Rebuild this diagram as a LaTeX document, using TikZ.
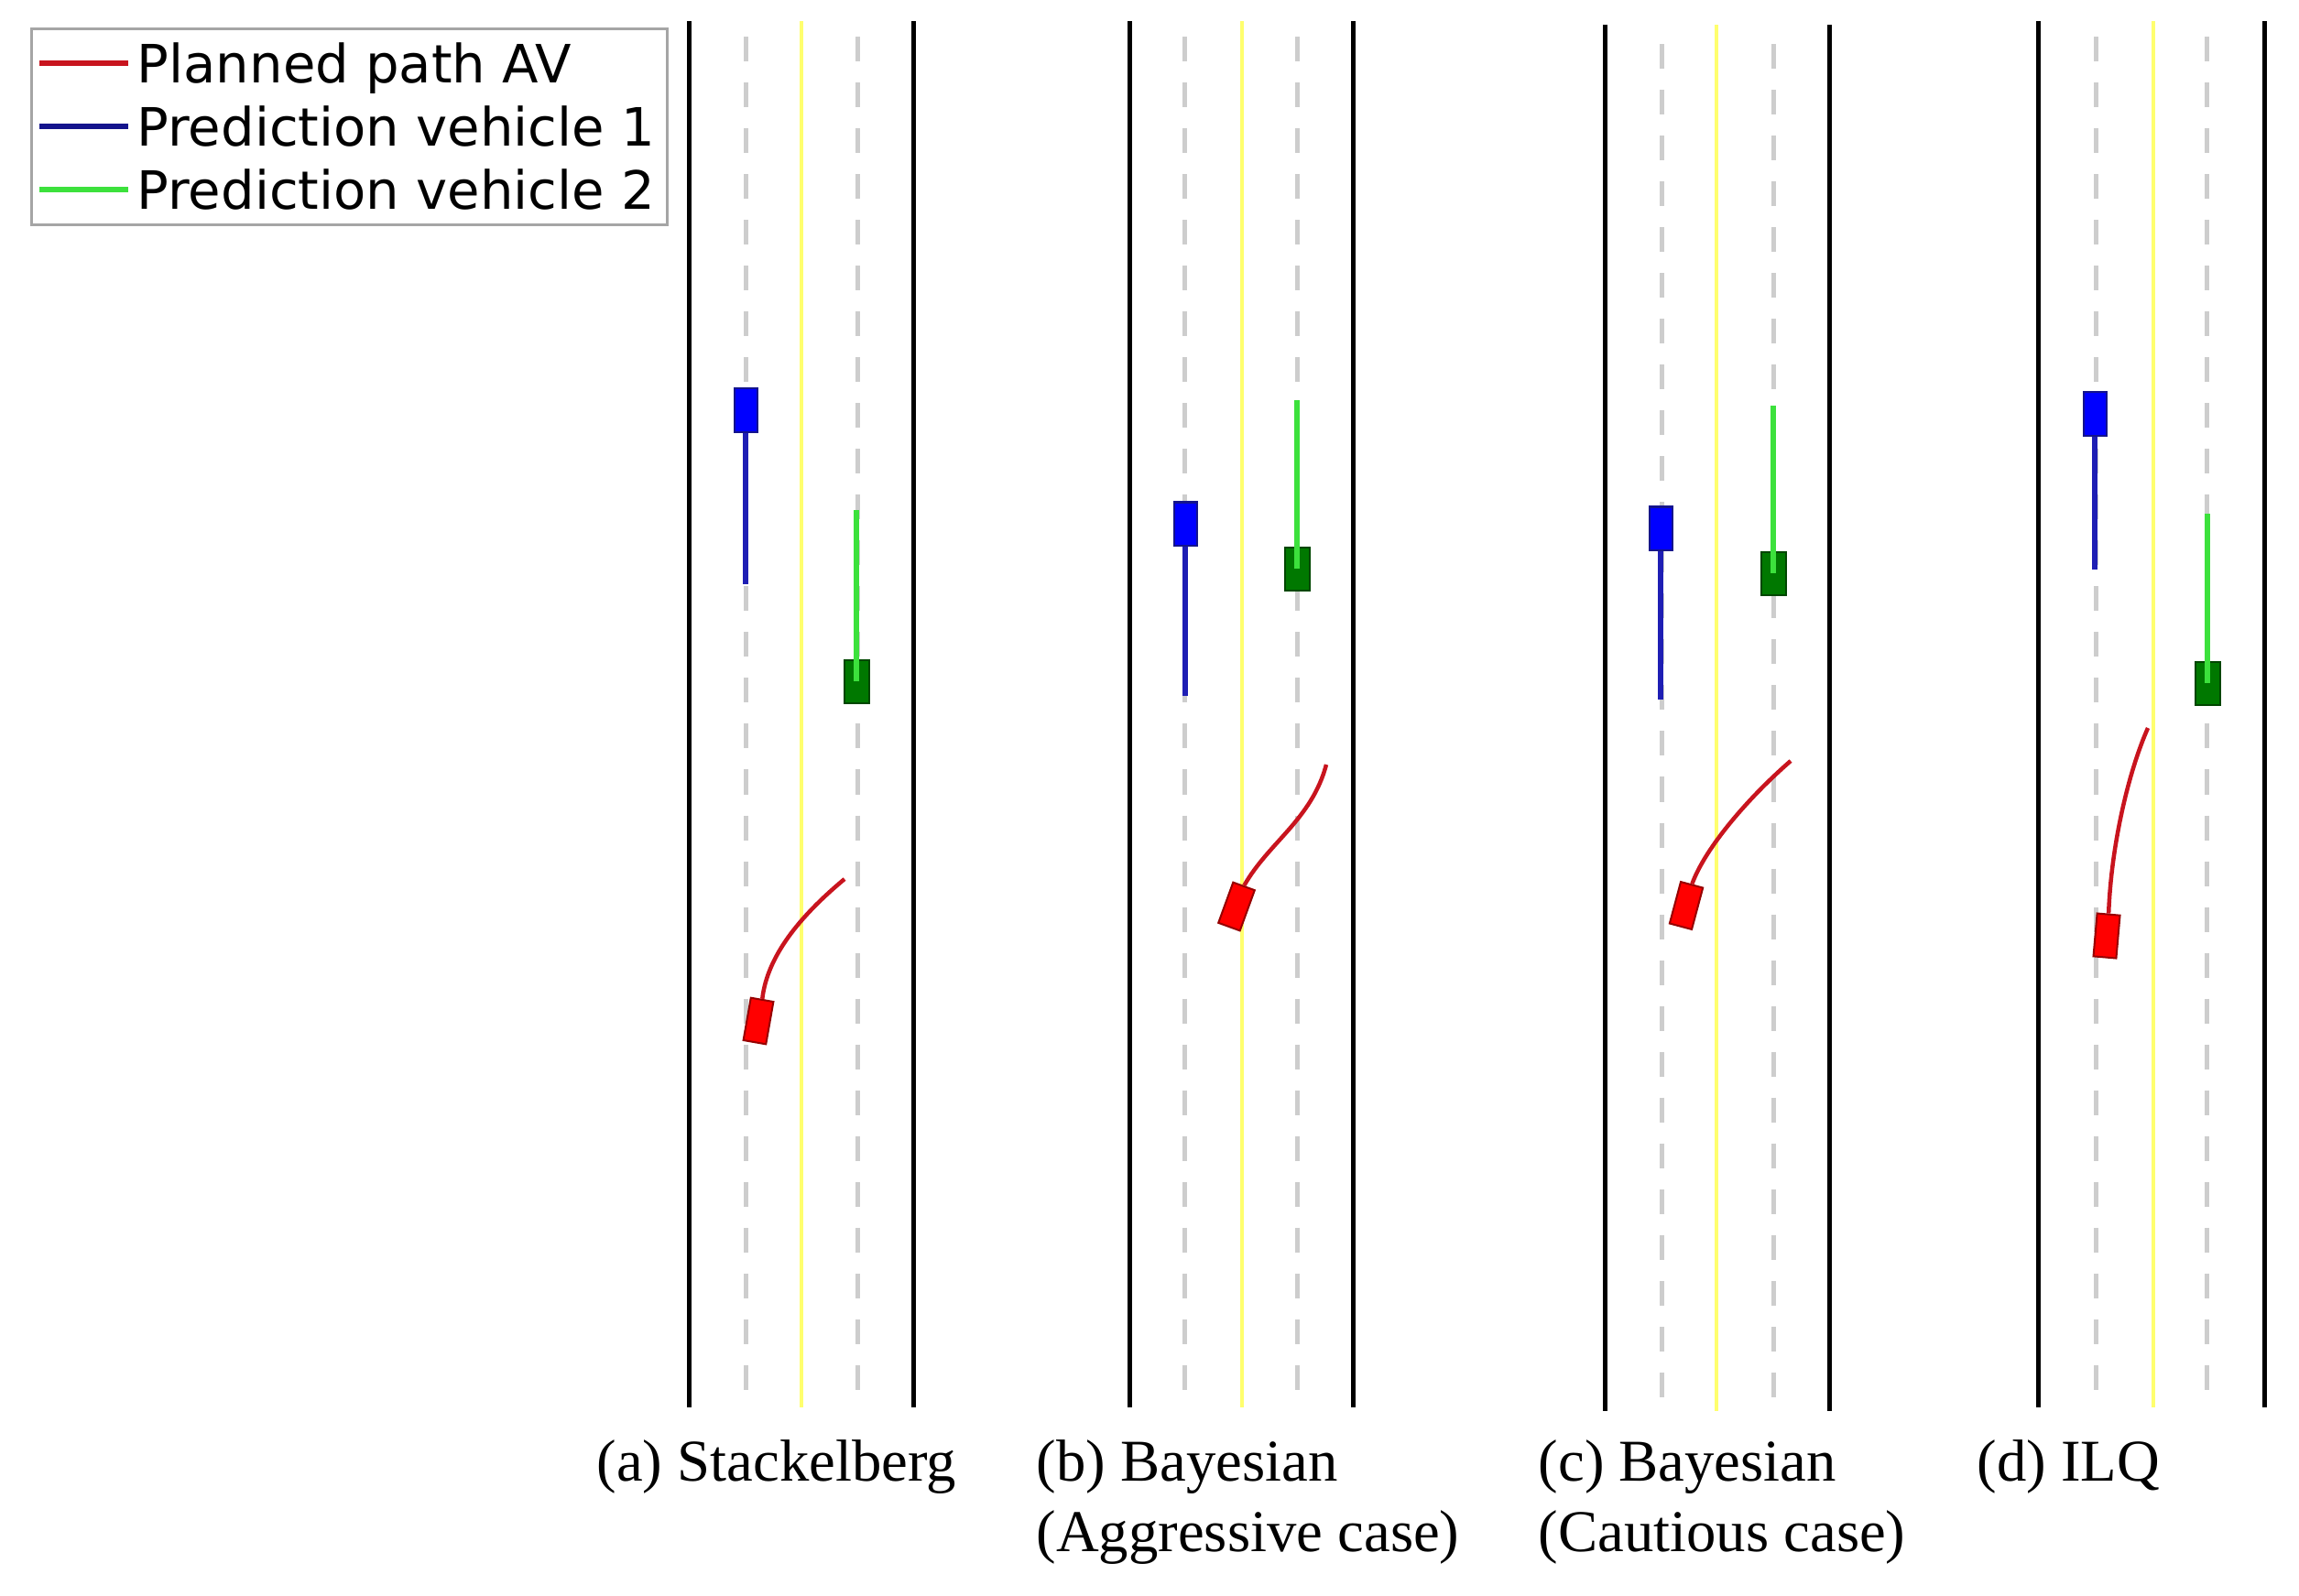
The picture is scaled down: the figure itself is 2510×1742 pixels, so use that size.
\documentclass[tikz,border=0pt]{standalone}
\usepackage{fontspec}
\setmainfont{Liberation Serif}
\newfontfamily\legendfont{DejaVu Sans}
\usetikzlibrary{positioning}

\definecolor{lanegray}{RGB}{205,205,205}
\definecolor{roadyellow}{RGB}{255,255,110}
\definecolor{egored}{RGB}{255,0,0}
\definecolor{egodark}{RGB}{150,0,0}
\definecolor{planred}{RGB}{200,20,30}
\definecolor{oneblue}{RGB}{0,0,255}
\definecolor{onedark}{RGB}{20,20,140}
\definecolor{predblue}{RGB}{30,30,180}
\definecolor{twogreen}{RGB}{0,120,0}
\definecolor{twodark}{RGB}{0,70,0}
\definecolor{predgreen}{RGB}{60,225,60}
\definecolor{legendgray}{RGB}{165,165,165}

\begin{document}
\begin{tikzpicture}[x=0.01cm,y=-0.01cm,
    edge/.style={line width=0.05cm,black},
    centre/.style={line width=0.045cm,roadyellow},
    lanemark/.style={line width=0.05cm,lanegray,dash pattern=on 0.27cm off 0.23cm,dash phase=0.33cm},
    egocar/.style={draw=egodark,fill=egored,line width=0.02cm,minimum width=0.25cm,minimum height=0.47cm,inner sep=0pt},
    carone/.style={draw=onedark,fill=oneblue,line width=0.02cm,minimum width=0.25cm,minimum height=0.47cm,inner sep=0pt},
    cartwo/.style={draw=twodark,fill=twogreen,line width=0.02cm,minimum width=0.27cm,minimum height=0.47cm,inner sep=0pt},
    plan/.style={line width=0.045cm,planred},
    predone/.style={line width=0.06cm,predblue},
    predtwo/.style={line width=0.06cm,predgreen},
    legendbox/.style={draw=legendgray,fill=white,line width=0.03cm,minimum width=6.93cm,minimum height=2.13cm,inner sep=0pt},
    legendtext/.style={font=\legendfont\fontsize{16.4}{19}\selectfont,anchor=base west,inner sep=0pt},
    caption/.style={font=\fontsize{18.4}{21.9}\selectfont,anchor=base west,align=left,inner sep=0pt}]
    \useasboundingbox (0,0) rectangle (2510,1742);

    % roads: edges, lane marks, centre line
    % (a)
    \draw[edge] (752,23) -- (752,1537);
    \draw[edge] (997,23) -- (997,1537);
    \draw[lanemark] (814,23) -- (814,1537);
    \draw[lanemark] (936,23) -- (936,1537);
    \draw[centre] (875,23) -- (875,1537);
    % (b)
    \draw[edge] (1233,23) -- (1233,1537);
    \draw[edge] (1477,23) -- (1477,1537);
    \draw[lanemark] (1293,23) -- (1293,1537);
    \draw[lanemark] (1416,23) -- (1416,1537);
    \draw[centre] (1356,23) -- (1356,1537);
    % (c)
    \draw[edge] (1752,27) -- (1752,1541);
    \draw[edge] (1997,27) -- (1997,1541);
    \draw[lanemark,dash phase=0.29cm] (1814,27) -- (1814,1541);
    \draw[lanemark,dash phase=0.29cm] (1936,27) -- (1936,1541);
    \draw[centre] (1874,27) -- (1874,1541);
    % (d)
    \draw[edge] (2225,23) -- (2225,1537);
    \draw[edge] (2472,23) -- (2472,1537);
    \draw[lanemark] (2288,23) -- (2288,1537);
    \draw[lanemark] (2409,23) -- (2409,1537);
    \draw[centre] (2351,23) -- (2351,1537);

    % vehicles and predictions
    % (a) Stackelberg
    \node[carone] (v1a) at (814,448) {};
    \coordinate (v1aend) at (814,638);
    \draw[predone] (v1a.south) -- (v1aend);
    \node[cartwo] (v2a) at (935,744) {};
    \coordinate (v2atop) at (935,557);
    \draw[predtwo] (v2atop) -- (v2a.center);
    \node[egocar,rotate=-10] (ava) at (828,1115) {};
    \coordinate (avaend) at (922,960);
    \draw[plan] (ava.north) .. controls (838,1040) and (880,995) .. (avaend);

    % (b) Bayesian, aggressive
    \node[carone] (v1b) at (1294,572) {};
    \coordinate (v1bend) at (1294,760);
    \draw[predone] (v1b.south) -- (v1bend);
    \node[cartwo] (v2b) at (1416,621) {};
    \coordinate (v2btop) at (1416,437);
    \draw[predtwo] (v2btop) -- (v2b.center);
    \node[egocar,rotate=-20] (avb) at (1350,990) {};
    \coordinate (avbend) at (1448,835);
    \draw[plan] (avb.north) .. controls (1385,920) and (1432,895) .. (avbend);

    % (c) Bayesian, cautious
    \node[carone] (v1c) at (1813,577) {};
    \coordinate (v1cend) at (1813,764);
    \draw[predone] (v1c.south) -- (v1cend);
    \node[cartwo] (v2c) at (1936,626) {};
    \coordinate (v2ctop) at (1936,443);
    \draw[predtwo] (v2ctop) -- (v2c.center);
    \node[egocar,rotate=-15] (avc) at (1841,989) {};
    \coordinate (avcend) at (1955,831);
    \draw[plan] (avc.north) .. controls (1862,925) and (1910,870) .. (avcend);

    % (d) ILQ
    \node[carone] (v1d) at (2287,452) {};
    \coordinate (v1dend) at (2287,622);
    \draw[predone] (v1d.south) -- (v1dend);
    \node[cartwo] (v2d) at (2410,746) {};
    \coordinate (v2dtop) at (2410,561);
    \draw[predtwo] (v2dtop) -- (v2d.center);
    \node[egocar,rotate=-5] (avd) at (2300,1022) {};
    \coordinate (avdend) at (2345,795);
    \draw[plan] (avd.north) .. controls (2305,920) and (2325,840) .. (avdend);

    % legend
    \node[legendbox] (legend) at (381.5,138.5) {};
    \coordinate (k1) at (43,69);  \coordinate (k1e) at (140,69);
    \coordinate (k2) at (43,138); \coordinate (k2e) at (140,138);
    \coordinate (k3) at (43,207); \coordinate (k3e) at (140,207);
    \draw[plan,line width=0.06cm] (k1) -- (k1e);
    \draw[predone,color=onedark] (k2) -- (k2e);
    \draw[predtwo] (k3) -- (k3e);
    \node[legendtext] (t1) at (149,90) {Planned path AV};
    \node[legendtext] (t2) at (149,159) {Prediction vehicle 1};
    \node[legendtext] (t3) at (149,228) {Prediction vehicle 2};

    % captions (two-line ones sit on their last baseline)
    \node[caption] (capa) at (651,1617) {(a) Stackelberg};
    \node[caption] (capb) at (1131,1694) {(b) Bayesian\\(Aggressive case)};
    \node[caption] (capc) at (1679,1694) {(c) Bayesian\\(Cautious case)};
    \node[caption] (capd) at (2158,1617) {(d) ILQ};
\end{tikzpicture}
\end{document}
